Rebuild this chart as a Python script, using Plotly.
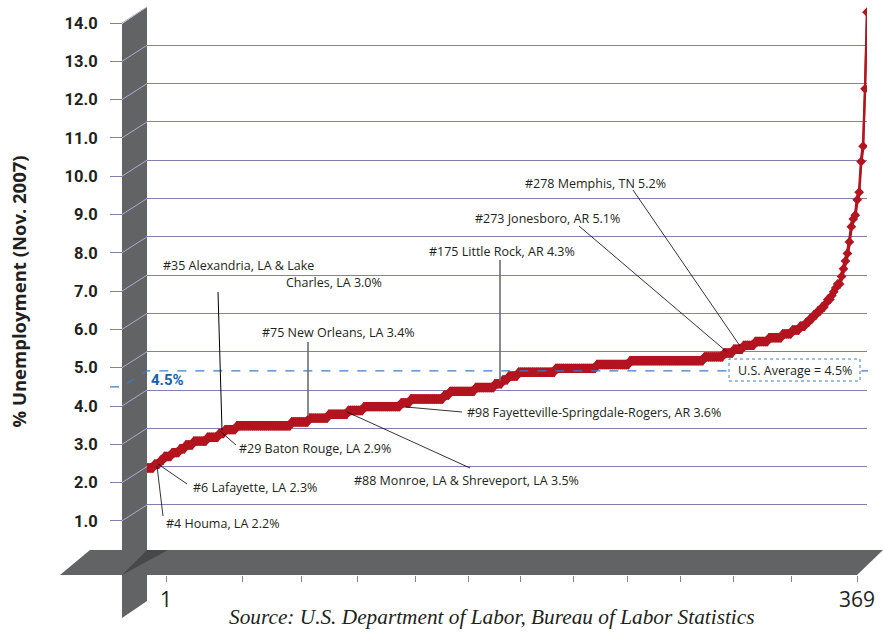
import plotly.graph_objects as go

W, H = 883, 634

# ---------------- data ----------------
# unemployment rate levels (%) and how many metro areas sit on each level, in rank order
rate_levels = [2.2, 2.3, 2.4, 2.5, 2.6, 2.7, 2.8, 2.9, 3.0, 3.1,
               3.2, 3.3, 3.4, 3.5, 3.6, 3.7, 3.8, 3.9, 4.0, 4.1,
               4.2, 4.3, 4.4, 4.5, 4.6, 4.7, 4.8, 4.9, 5.0, 5.1,
               5.2, 5.3, 5.4, 5.5, 5.6, 5.7, 5.8, 5.9, 6.0, 6.1,
               6.2, 6.3, 6.4, 6.5, 6.6, 6.7, 6.8, 6.9, 7.0]
metros_per_level = [4, 3, 2, 4, 4, 3, 4, 7, 6, 3,
                    6, 28, 9, 10, 10, 8, 19, 5, 17, 3,
                    13, 10, 4, 3, 5, 19, 21, 17, 38, 10,
                    5, 5, 6, 7, 7, 5, 4, 3, 2, 2,
                    2, 2, 2, 1, 2, 1, 1, 1, 2]
# highest-ranked metros (ranks 356..369)
top_tail_rates = [7.2, 7.4, 7.6, 7.8, 8.1, 8.5, 8.7, 8.8, 9.2, 9.4, 10.2, 10.6, 12.1, 14.1]

us_average = 4.5
y_tick_values = list(range(1, 15))
y_tick_labels = ["%.1f" % v for v in y_tick_values]
x_tick_ranks = [1, 42, 73, 103, 134, 162, 190, 218, 247, 275, 303, 334, 369]
x_tick_labels = ["1"] + [""] * 11 + ["369"]

callout_texts = ["#278 Memphis, TN 5.2%", "#273 Jonesboro, AR 5.1%", "#175 Little Rock, AR 4.3%",
                 "#35 Alexandria, LA & Lake", "Charles, LA 3.0%", "#75 New Orleans, LA 3.4%",
                 "#98 Fayetteville-Springdale-Rogers, AR 3.6%", "#29 Baton Rouge, LA 2.9%",
                 "#88 Monroe, LA & Shreveport, LA 3.5%", "#6 Lafayette, LA 2.3%", "#4 Houma, LA 2.2%"]

rates = []
for lvl, n in zip(rate_levels, metros_per_level):
    rates += [lvl] * n
rates += top_tail_rates
ranks = list(range(1, len(rates) + 1))

# ---------------- geometry / style ----------------
RED = "#b3141f"
GRID = "#837fae"
WALLLINE = "#aeabd0"
GRAY = "#626365"
DARK = "#47484a"
TXT = "#231f20"
BLUE = "#3d7cc9"

BACK_TOP, BACK_BOT = 7.0, 543.2
PPU = (BACK_BOT - BACK_TOP) / 14.0
u = 1.0 / PPU
FRONT_DY = 16.0
MID_DY = 9.0      # the ribbon sits half-way into the depth of the 3-D box
HALF_RIB = 3.6
PLOT_L, PLOT_R = 147, 867
FRONT_L, FRONT_R = 166, 857
WALL_X0, WALL_X1 = 122, 147
FLOOR_Y = 575


def fx(x):
    return x / W


def fy(y):
    return 1 - y / H


def yb(v):
    return BACK_BOT - v * PPU


ydom = [fy(BACK_BOT), fy(BACK_TOP)]
HIDDEN = dict(showticklabels=False, ticks="", showgrid=False, zeroline=False, showline=False,
              automargin=False)

mid = [r - MID_DY * u for r in rates]

fig = go.Figure()
# ribbon (3-D line look)
fig.add_trace(go.Scatter(x=ranks, y=[m - HALF_RIB * u for m in mid], xaxis="x", yaxis="y",
                         mode="lines", line=dict(color=RED, width=2.2), hoverinfo="skip"))
fig.add_trace(go.Scatter(x=ranks, y=[m + HALF_RIB * u for m in mid], xaxis="x", yaxis="y",
                         mode="lines", line=dict(color=RED, width=2.2), fill="tonexty",
                         fillcolor=RED, hoverinfo="skip"))
fig.add_trace(go.Scatter(x=ranks, y=mid, xaxis="x", yaxis="y", mode="markers",
                         marker=dict(symbol="diamond", size=7.5, color=RED), hoverinfo="skip"))
# carrier trace for the front (label) axes
fig.add_trace(go.Scatter(x=[1, 369], y=[1, 1], xaxis="x2", yaxis="y2", mode="markers",
                         marker=dict(opacity=0), hoverinfo="skip"))

shapes = []
# wall
shapes.append(dict(type="path", xref="paper", yref="paper", layer="above",
                   path="M %f,%f L %f,%f L %f,%f L %f,%f Z" % (
                       fx(WALL_X0), fy(24), fx(WALL_X1), fy(7), fx(WALL_X1), fy(601), fx(WALL_X0), fy(618)),
                   fillcolor=GRAY, line=dict(width=0)))
# floor
shapes.append(dict(type="path", xref="paper", yref="paper", layer="above",
                   path="M %f,%f L %f,%f L %f,%f L %f,%f Z" % (
                       fx(60), fy(575), fx(90), fy(550), fx(883), fy(550), fx(857), fy(575)),
                   fillcolor=GRAY, line=dict(width=0)))
shapes.append(dict(type="path", xref="paper", yref="paper", layer="above",
                   path="M %f,%f L %f,%f L %f,%f Z" % (
                       fx(122), fy(575), fx(147), fy(550), fx(168), fy(550)),
                   fillcolor=DARK, line=dict(width=0)))
# wall diagonals joining front ticks to back gridlines
for v in y_tick_values:
    shapes.append(dict(type="line", xref="paper", yref="paper", layer="above",
                       x0=fx(WALL_X0), y0=fy(yb(v) + FRONT_DY), x1=fx(WALL_X1), y1=fy(yb(v)),
                       line=dict(color=WALLLINE, width=1)))
# US average dashed line
ya = yb(us_average)
shapes.append(dict(type="path", xref="paper", yref="paper", layer="above",
                   path="M %f,%f L %f,%f L %f,%f L %f,%f" % (
                       fx(110), fy(ya + FRONT_DY), fx(WALL_X0), fy(ya + FRONT_DY),
                       fx(WALL_X1), fy(ya), fx(868), fy(ya)),
                   line=dict(color=BLUE, width=1.2, dash="dash")))
shapes.append(dict(type="rect", xref="paper", yref="paper", layer="above",
                   x0=fx(729), x1=fx(860), y0=fy(381), y1=fy(359),
                   fillcolor="white", line=dict(color=BLUE, width=1, dash="dot")))

# leader lines
leaders = [
    ((633, 190), (740, 346), "black", 0.8),
    ((579, 226), (727, 352), "black", 0.8),
    ((500, 260), (500, 381), "#6d6e71", 1.6),
    ((218, 292), (222, 430), "black", 1.0),
    ((308, 342), (308, 416), "#6d6e71", 1.6),
    ((406, 407), (462, 412), "black", 0.8),
    ((220, 431), (236, 445), "black", 0.8),
    ((347, 412), (470, 468), "black", 0.8),
    ((158, 464), (187, 484), "black", 0.8),
    ((157, 466), (163, 516), "black", 0.8),
]
for (a, b, c, w) in leaders:
    shapes.append(dict(type="line", xref="paper", yref="paper", layer="above",
                       x0=fx(a[0]), y0=fy(a[1]), x1=fx(b[0]), y1=fy(b[1]),
                       line=dict(color=c, width=w)))

annotations = []
callout_pos = [(523, 183), (473, 218), (427, 252), (161, 265), (284, 282), (260, 333),
               (465, 412), (237, 448), (352, 480), (191, 487), (164, 523)]
for t, (x, y) in zip(callout_texts, callout_pos):
    annotations.append(dict(text=t, x=fx(x), y=fy(y), xref="paper", yref="paper",
                            xanchor="left", yanchor="middle", showarrow=False,
                            font=dict(family="Open Sans", size=12.5, color=TXT)))
annotations.append(dict(text="U.S. Average = %.1f%%" % us_average, x=fx(794.5), y=fy(370),
                        xref="paper", yref="paper", xanchor="center", yanchor="middle",
                        showarrow=False, font=dict(family="Open Sans", size=12.5, color=TXT)))
annotations.append(dict(text="<b>%.1f%%</b>" % us_average, x=fx(167), y=fy(380), xref="paper",
                        yref="paper", xanchor="center", yanchor="middle", showarrow=False,
                        font=dict(family="Roboto", size=15, color="#1a5fae")))
annotations.append(dict(text="<b>% Unemployment (Nov. 2007)</b>", x=fx(17.5), y=fy(292),
                        xref="paper", yref="paper", xanchor="center", yanchor="middle",
                        textangle=-90, showarrow=False,
                        font=dict(family="Open Sans", size=18.5, color=TXT)))
annotations.append(dict(text="<i>Source: U.S. Department of Labor, Bureau of Labor Statistics</i>",
                        x=fx(492), y=fy(617), xref="paper", yref="paper", xanchor="center",
                        yanchor="middle", showarrow=False,
                        font=dict(family="Liberation Serif", size=21.3, color=TXT)))

fig.update_layout(
    width=W, height=H, autosize=False,
    margin=dict(l=0, r=0, t=0, b=0, pad=0, autoexpand=False),
    paper_bgcolor="white", plot_bgcolor="rgba(0,0,0,0)",
    showlegend=False, hovermode=False,
    xaxis=dict(domain=[fx(PLOT_L), fx(PLOT_R)], range=[1, 369], autorange=False, **HIDDEN),
    yaxis=dict(domain=ydom, range=[0, 14], autorange=False, tickvals=y_tick_values,
               showticklabels=False, ticks="", showgrid=True, gridcolor=GRID, gridwidth=1.3,
               zeroline=False, showline=False, automargin=False),
    xaxis2=dict(domain=[fx(FRONT_L), fx(FRONT_R)], range=[1, 369], autorange=False, anchor="free",
                position=fy(FLOOR_Y), tickvals=x_tick_ranks, ticktext=x_tick_labels,
                ticks="outside", ticklen=6, tickcolor=GRID, tickwidth=1, showgrid=False,
                zeroline=False, showline=False, automargin=False,
                tickfont=dict(family="Open Sans", size=21, color=TXT)),
    yaxis2=dict(domain=ydom, range=[FRONT_DY * u, 14 + FRONT_DY * u], autorange=False,
                anchor="free", position=fx(WALL_X0), tickvals=y_tick_values,
                ticktext=["<b>%s</b>" % t for t in y_tick_labels],
                ticks="outside", ticklen=12, tickcolor=GRID, tickwidth=1.2, showgrid=False,
                zeroline=False, showline=False, ticklabelstandoff=9, automargin=False,
                tickfont=dict(family="Roboto", size=16.5, color=TXT)),
    shapes=shapes,
    annotations=annotations,
)

fig.write_html("out.html")
